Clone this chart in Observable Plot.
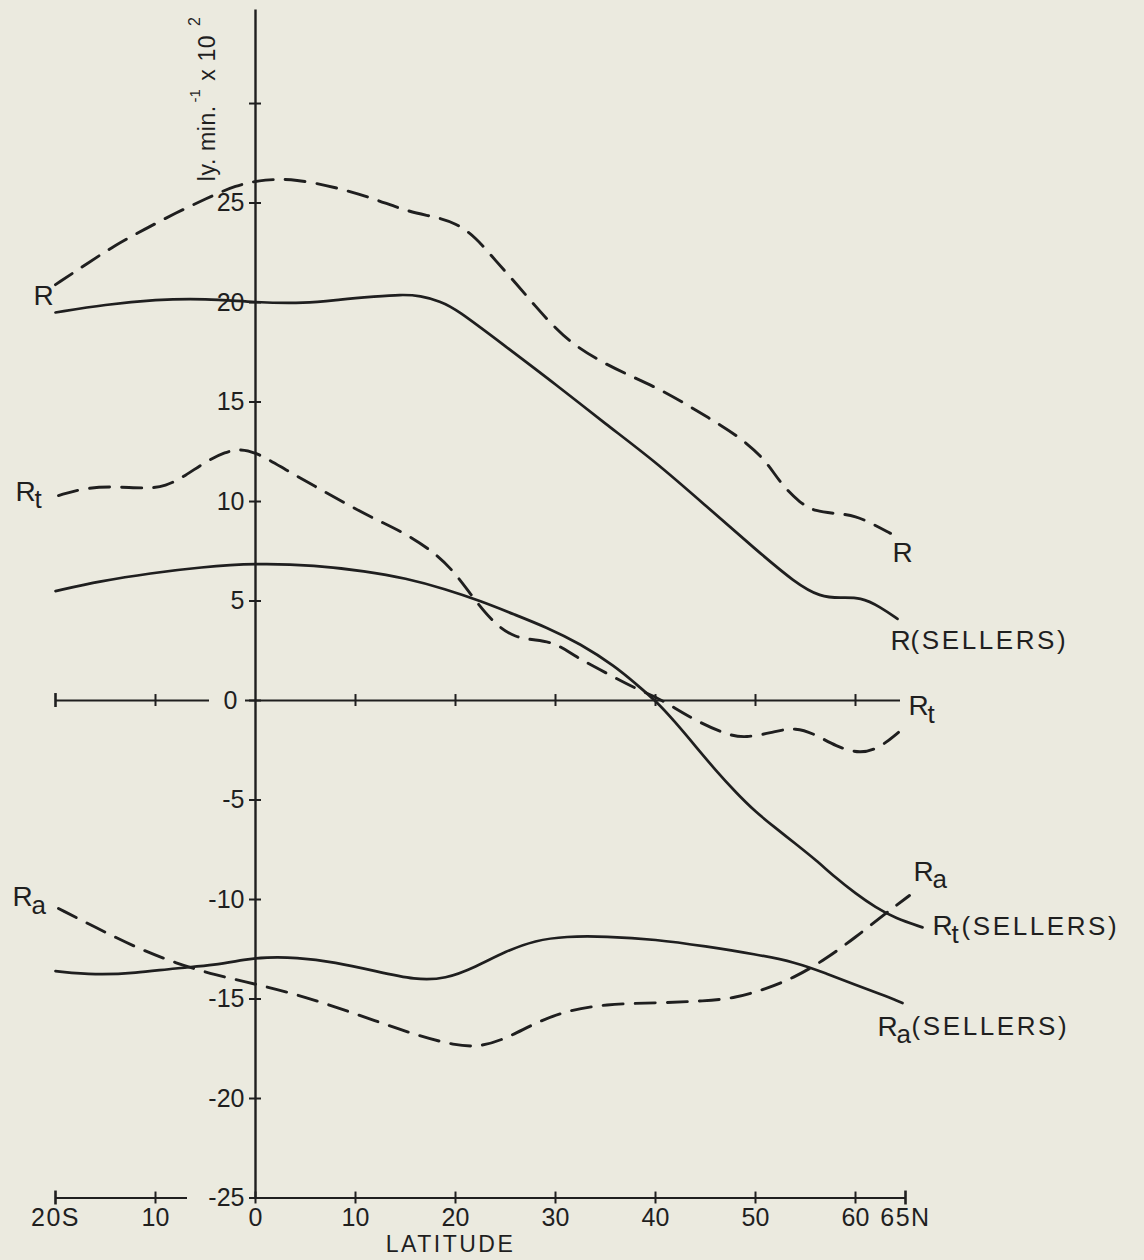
<!DOCTYPE html>
<html>
<head>
<meta charset="utf-8">
<script src="https://cdn.jsdelivr.net/npm/d3@7"></script>
<script src="https://cdn.jsdelivr.net/npm/@observablehq/plot@0.6"></script>
<style>
  html, body { margin: 0; padding: 0; background: #ebeadf; }
  svg { background: #ebeadf; display: block; }
</style>
</head>
<body>
<div id="chart"></div>
<script>
// ---- data ----
const rObsLat = [-20,-17,-14,-11,-8,-5,-2,1,4,8,12,15,18,20,22,24,26,28,30,32,35,38,41,44,46,48.5,51,52.5,54.5,56,58,60,62,63.5];
const rObsVal = [20.9,21.9,22.9,23.7,24.5,25.2,25.9,26.2,26.2,25.8,25.2,24.6,24.3,24.0,23.3,22.1,21.0,19.8,18.7,17.8,16.9,16.2,15.5,14.6,14.0,13.2,12.1,10.9,9.9,9.5,9.4,9.3,8.8,8.4];

const rSelLat = [-20,-15,-10,-5,0,5,8.5,12,14.5,16.5,18.5,20,25,30,35,40,45,50,54,56.5,58.5,60.5,62.5,64.2];
const rSelVal = [19.5,19.9,20.15,20.2,20.0,19.95,20.15,20.3,20.4,20.35,20.05,19.7,17.8,15.9,13.9,12.0,9.8,7.6,5.9,5.2,5.15,5.2,4.7,4.1];

const rtObsLat = [-19.7,-17,-14,-11,-9,-7,-5,-3,-1.5,0.2,3,6,9,12,15,18,20,22,24,26,28,30,32,35,38,40,42,44,47,49,52,54,56,58,60.5,62.5,64.3];
const rtObsVal = [10.3,10.7,10.75,10.65,10.75,11.3,12.0,12.5,12.65,12.45,11.6,10.75,9.9,9.1,8.4,7.4,6.4,5.0,3.8,3.15,3.05,2.9,2.2,1.4,0.6,0.2,-0.4,-1.0,-1.7,-1.9,-1.55,-1.35,-1.7,-2.3,-2.7,-2.35,-1.6];

const rtSelLat = [-20,-15.5,-10.5,-5.5,0,6,11,15,19,22.5,26,29,32.5,36,38,40,42,44,46,48,50,52,54,56,58,60,62,64,66.7];
const rtSelVal = [5.5,6.0,6.4,6.7,6.9,6.8,6.5,6.15,5.6,5.0,4.3,3.7,2.85,1.7,0.85,0.0,-1.1,-2.3,-3.5,-4.6,-5.6,-6.4,-7.2,-8.0,-8.9,-9.7,-10.4,-10.95,-11.4];

const raObsLat = [-19.7,-16,-12,-8,-4,0,4,8,12,16,20,22.5,25,28,31,35,40,45,48,51,54,57,60,63,65.4];
const raObsVal = [-10.45,-11.4,-12.4,-13.2,-13.8,-14.25,-14.75,-15.4,-16.1,-16.8,-17.35,-17.4,-17.0,-16.2,-15.6,-15.25,-15.2,-15.1,-14.95,-14.5,-13.9,-13.0,-11.9,-10.7,-9.8];

const raSelLat = [-20,-16,-12,-8,-4,-1,1,4,8,12,16,19,22,25,28,31,35,40,45,50,54,57,60,62.5,64.7];
const raSelVal = [-13.6,-13.8,-13.7,-13.45,-13.3,-13.0,-12.9,-12.9,-13.15,-13.6,-14.05,-14.0,-13.4,-12.6,-12.05,-11.85,-11.85,-12.0,-12.35,-12.75,-13.15,-13.7,-14.3,-14.75,-15.2];

// axis ticks
const yTickVals = [-25,-20,-15,-10,-5,0,5,10,15,20,25,30];
const yLabelVals = [-25,-20,-15,-10,-5,5,10,15,20,25];
const yTickLabels = ["-25","-20","-15","-10","-5","5","10","15","20","25"];
const yZeroLabel = ["0"];
const zeroTickVals = [-10,10,20,30,40,50,60];
const bottomTickVals = [-10,0,10,20,30,40,50,60];
const capVals = [-20,65];
const xTickLabelVals = [-20,-10,0,10,20,30,40,50,60,65];
const xTickLabels = ["20S","10","0","10","20","30","40","50","60","65N"];

// curve labels: main letter, subscript, suffix, position
const curveLabels = [
  {main:"R", sub:"",  suffix:"",          lat:-22.2, val:20.35},
  {main:"R", sub:"t", suffix:"",          lat:-24.0, val:10.5},
  {main:"R", sub:"a", suffix:"",          lat:-24.3, val:-9.9},
  {main:"R", sub:"",  suffix:"",          lat:63.7,  val:7.4},
  {main:"R", sub:"",  suffix:"(SELLERS)", lat:63.5,  val:3.0},
  {main:"R", sub:"t", suffix:"",          lat:65.3,  val:-0.3},
  {main:"R", sub:"a", suffix:"",          lat:65.8,  val:-8.6},
  {main:"R", sub:"t", suffix:"(SELLERS)", lat:67.7,  val:-11.35},
  {main:"R", sub:"a", suffix:"(SELLERS)", lat:62.2,  val:-16.4}
];

const zip = (la, va) => la.map((d, i) => ({lat: d, val: va[i]}));
const ink = "#1f1f1f";
const font = "Liberation Sans, Arial, Helvetica, sans-serif";

const solid = {x: "lat", y: "val", curve: "basis", stroke: ink, strokeWidth: 2.7};
const dashed = {...solid, strokeWidth: 2.9, strokeDasharray: "20,12"};

const suffixText = (sub, dx) => Plot.text(curveLabels.filter(d => d.suffix && d.sub === sub), {
  x: "lat", y: "val", text: "suffix", textAnchor: "start", lineAnchor: "middle",
  fontSize: 26, fill: ink, dx});

const rotText = (txt, lat, val, size) => Plot.text([txt], {x: lat, y: val, text: d => d, rotate: -90,
  textAnchor: "start", lineAnchor: "middle", fontSize: size, fill: ink});

const chart = Plot.plot({
  width: 1144,
  height: 1260,
  marginLeft: 55,
  marginRight: 239,
  marginTop: 9.5,
  marginBottom: 62.5,
  x: {domain: [-20, 65], axis: null},
  y: {domain: [-25, 34.7], axis: null},
  style: {background: "#ebeadf", fontFamily: font, color: ink},
  marks: [
    // y axis
    Plot.ruleX([0], {y1: -25, y2: 34.7, stroke: ink, strokeWidth: 2.4}),
    Plot.ruleY(yTickVals, {y: d => d, x1: -0.6, x2: 0.6, stroke: ink, strokeWidth: 2}),
    Plot.text(yLabelVals, {x: 0, y: d => d, text: (d, i) => yTickLabels[i], textAnchor: "end",
      dx: -11, fontSize: 25, fill: ink, lineAnchor: "middle"}),
    Plot.text(yZeroLabel, {x: 0, y: 0, text: d => d, textAnchor: "end",
      dx: -18, fontSize: 25, fill: ink, lineAnchor: "middle"}),
    // zero line (interrupted by the "0" label)
    Plot.ruleY([0], {x1: -20, x2: -4.6, stroke: ink, strokeWidth: 1.8}),
    Plot.ruleY([0], {x1: -1, x2: 64.5, stroke: ink, strokeWidth: 1.8}),
    Plot.ruleX(zeroTickVals, {x: d => d, y1: -0.3, y2: 0.3, stroke: ink, strokeWidth: 2}),
    Plot.ruleX([-20], {x: d => d, y1: -0.35, y2: 0.35, stroke: ink, strokeWidth: 2.6}),
    // bottom axis (interrupted by the "-25" label)
    Plot.ruleY([-25], {x1: -20, x2: -6.8, stroke: ink, strokeWidth: 1.8}),
    Plot.ruleY([-25], {x1: 0, x2: 65, stroke: ink, strokeWidth: 1.8}),
    Plot.ruleX(bottomTickVals, {x: d => d, y1: -25.3, y2: -24.7, stroke: ink, strokeWidth: 2}),
    Plot.ruleX(capVals, {x: d => d, y1: -25.35, y2: -24.65, stroke: ink, strokeWidth: 2.6}),
    Plot.text(xTickLabelVals, {x: d => d, y: -25, text: (d, i) => xTickLabels[i], dy: 20,
      fontSize: 25, fill: ink, lineAnchor: "middle"}),
    Plot.text(["LATITUDE"], {x: 19.5, y: -25, text: d => d, dy: 47, fontSize: 23,
      fill: ink, lineAnchor: "middle"}),
    // y axis title (rotated) with superscripts
    rotText("ly. min.", -4.8, 26.1, 23),
    rotText("-1", -6.0, 30.05, 15),
    rotText("x 10", -4.8, 31.15, 23),
    rotText("2", -6.1, 33.9, 16),
    // curves
    Plot.line(zip(rObsLat, rObsVal), dashed),
    Plot.line(zip(rSelLat, rSelVal), solid),
    Plot.line(zip(rtObsLat, rtObsVal), dashed),
    Plot.line(zip(rtSelLat, rtSelVal), solid),
    Plot.line(zip(raObsLat, raObsVal), dashed),
    Plot.line(zip(raSelLat, raSelVal), solid),
    // curve labels
    Plot.text(curveLabels, {x: "lat", y: "val", text: "main", textAnchor: "start",
      lineAnchor: "middle", fontSize: 28, fill: ink}),
    Plot.text(curveLabels.filter(d => d.sub), {x: "lat", y: "val", text: "sub", textAnchor: "start",
      lineAnchor: "middle", fontSize: 26, fill: ink, dx: 19, dy: 8}),
    suffixText("", 20),
    suffixText("t", 29),
    suffixText("a", 34)
  ]
});

// letter spacing for the widely tracked captions
d3.select(chart).selectAll("text").each(function() {
  const t = this.textContent;
  if (t === "(SELLERS)") this.setAttribute("letter-spacing", "2.6");
  if (t === "LATITUDE") this.setAttribute("letter-spacing", "2.5");
  if (t === "x 10" || t === "ly. min.") this.setAttribute("letter-spacing", "0.6");
  if (t === "20S" || t === "65N") this.setAttribute("letter-spacing", "1.5");
});

document.getElementById("chart").appendChild(chart);
</script>
</body>
</html>
